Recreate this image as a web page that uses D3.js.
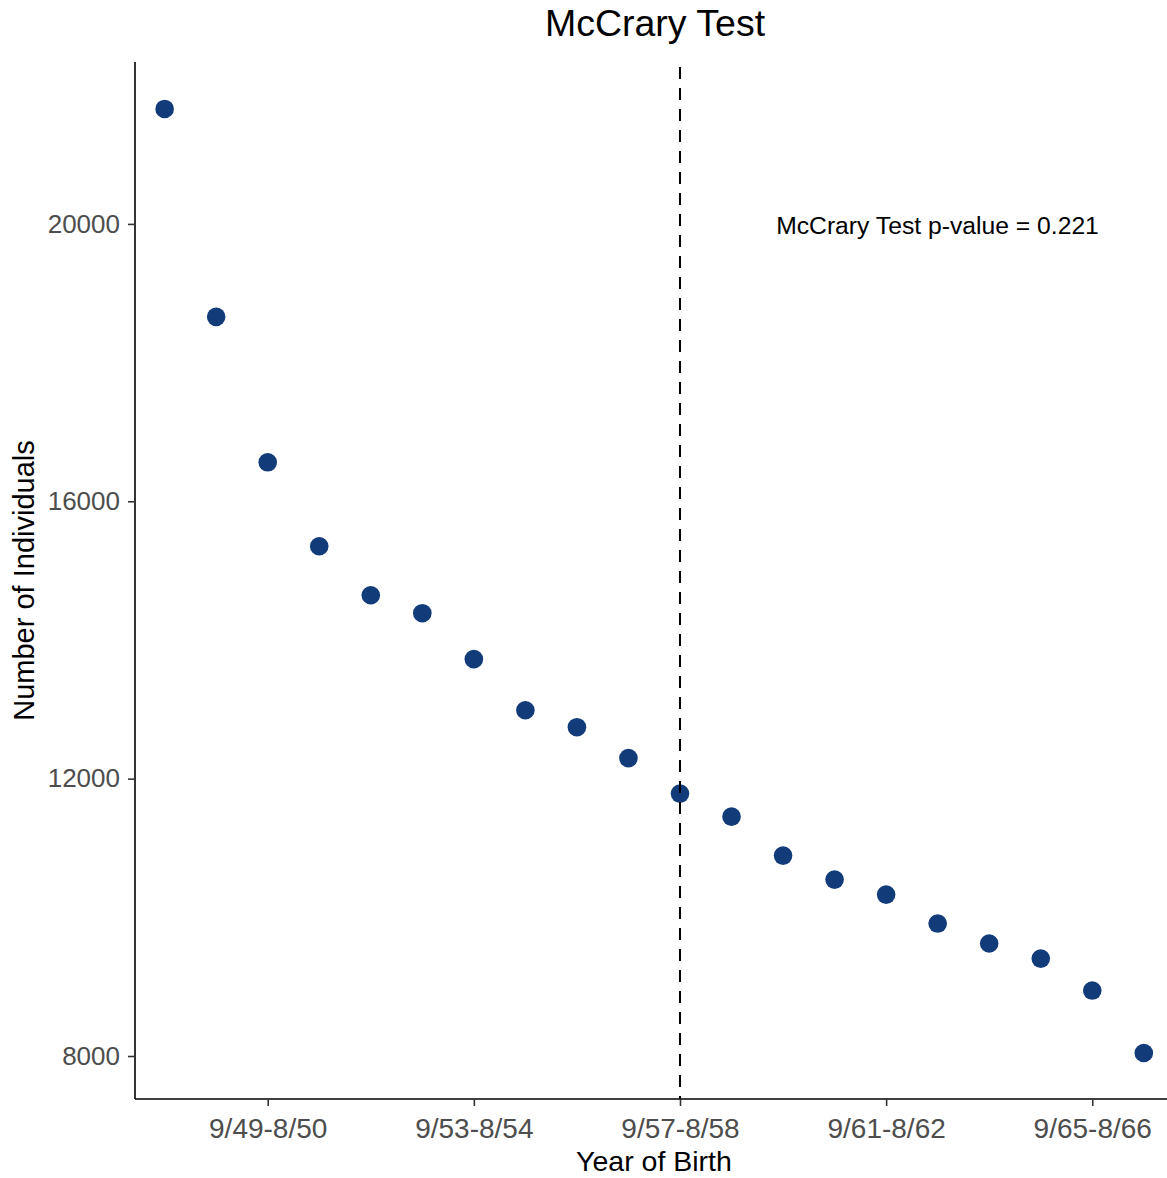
<!DOCTYPE html>
<html>
<head>
<meta charset="utf-8">
<script src="https://cdn.jsdelivr.net/npm/d3@7"></script>
<style>
  body { margin: 0; background: #fff; }
  svg { display: block; font-family: "Liberation Sans", Arial, sans-serif; }
</style>
</head>
<body>
<svg id="chart" width="1167" height="1178"></svg>
<script>
// Data
const cohorts = ["9/47-8/48","9/48-8/49","9/49-8/50","9/50-8/51","9/51-8/52","9/52-8/53","9/53-8/54","9/54-8/55","9/55-8/56","9/56-8/57","9/57-8/58","9/58-8/59","9/59-8/60","9/60-8/61","9/61-8/62","9/62-8/63","9/63-8/64","9/64-8/65","9/65-8/66","9/66-8/67"];
const counts = [21658, 18660, 16562, 15351, 14645, 14386, 13723, 12987, 12742, 12296, 11784, 11452, 10890, 10544, 10328, 9910, 9622, 9405, 8944, 8043];
const xTickLabels = ["9/49-8/50","9/53-8/54","9/57-8/58","9/61-8/62","9/65-8/66"];
const yTicks = [8000, 12000, 16000, 20000];
const cutoff = "9/57-8/58";
const titleText = "McCrary Test";
const annotation = "McCrary Test p-value = 0.221";

const svg = d3.select("#chart");
const mLeft = 135, mRight = 1167, mTop = 62, mBottom = 1099;

const x = d3.scaleLinear()
  .domain([-0.575, cohorts.length - 1 + 0.45])
  .range([mLeft, mRight]);
const y = d3.scaleLinear()
  .domain([7380, 22335])
  .range([mBottom, mTop]);

const xPos = label => x(cohorts.indexOf(label));

// points
svg.append("g").selectAll("circle")
  .data(counts)
  .join("circle")
  .attr("cx", (d, i) => x(i))
  .attr("cy", d => y(d))
  .attr("r", 9.3)
  .attr("fill", "#123b7a");

// cutoff line
svg.append("line")
  .attr("x1", xPos(cutoff)).attr("x2", xPos(cutoff))
  .attr("y1", 67).attr("y2", mBottom)
  .attr("stroke", "#000")
  .attr("stroke-width", 2)
  .attr("stroke-dasharray", "12,9");

// y axis
const yAxis = svg.append("g")
  .attr("transform", `translate(${mLeft},0)`)
  .call(d3.axisLeft(y).tickValues(yTicks).tickSize(7).tickPadding(8).tickFormat(d3.format("d")));
yAxis.select(".domain").attr("stroke", "#000").attr("stroke-width", 1.6).attr("d", `M0,${mTop}V${mBottom}`);
yAxis.selectAll(".tick line").attr("stroke", "#333").attr("stroke-width", 1.6);
yAxis.selectAll(".tick text").attr("fill", "#4d4d4d").style("font-size", "26px").style("font-family", "'Liberation Sans', Arial, sans-serif");

// x axis
const xAxis = svg.append("g")
  .attr("transform", `translate(0,${mBottom})`)
  .call(d3.axisBottom(x)
    .tickValues(xTickLabels.map(l => cohorts.indexOf(l)))
    .tickFormat(i => cohorts[i])
    .tickSize(7).tickPadding(12));
xAxis.select(".domain").attr("stroke", "#000").attr("stroke-width", 1.6).attr("d", `M${mLeft},0H${mRight}`);
xAxis.selectAll(".tick line").attr("stroke", "#333").attr("stroke-width", 1.6);
xAxis.selectAll(".tick text").attr("fill", "#4d4d4d").style("font-size", "28px").style("font-family", "'Liberation Sans', Arial, sans-serif");

// titles
svg.append("text")
  .attr("x", 655).attr("y", 36)
  .attr("text-anchor", "middle")
  .style("font-size", "37.5px")
  .attr("fill", "#000")
  .text(titleText);

svg.append("text")
  .attr("x", 654).attr("y", 1171)
  .attr("text-anchor", "middle")
  .style("font-size", "28.5px")
  .attr("fill", "#000")
  .text("Year of Birth");

svg.append("text")
  .attr("transform", `translate(34,${(mTop + mBottom) / 2}) rotate(-90)`)
  .attr("text-anchor", "middle")
  .style("font-size", "29px")
  .attr("fill", "#000")
  .text("Number of Individuals");

svg.append("text")
  .attr("x", 937.5).attr("y", 234)
  .attr("text-anchor", "middle")
  .style("font-size", "24.7px")
  .attr("fill", "#000")
  .text(annotation);
</script>
</body>
</html>
